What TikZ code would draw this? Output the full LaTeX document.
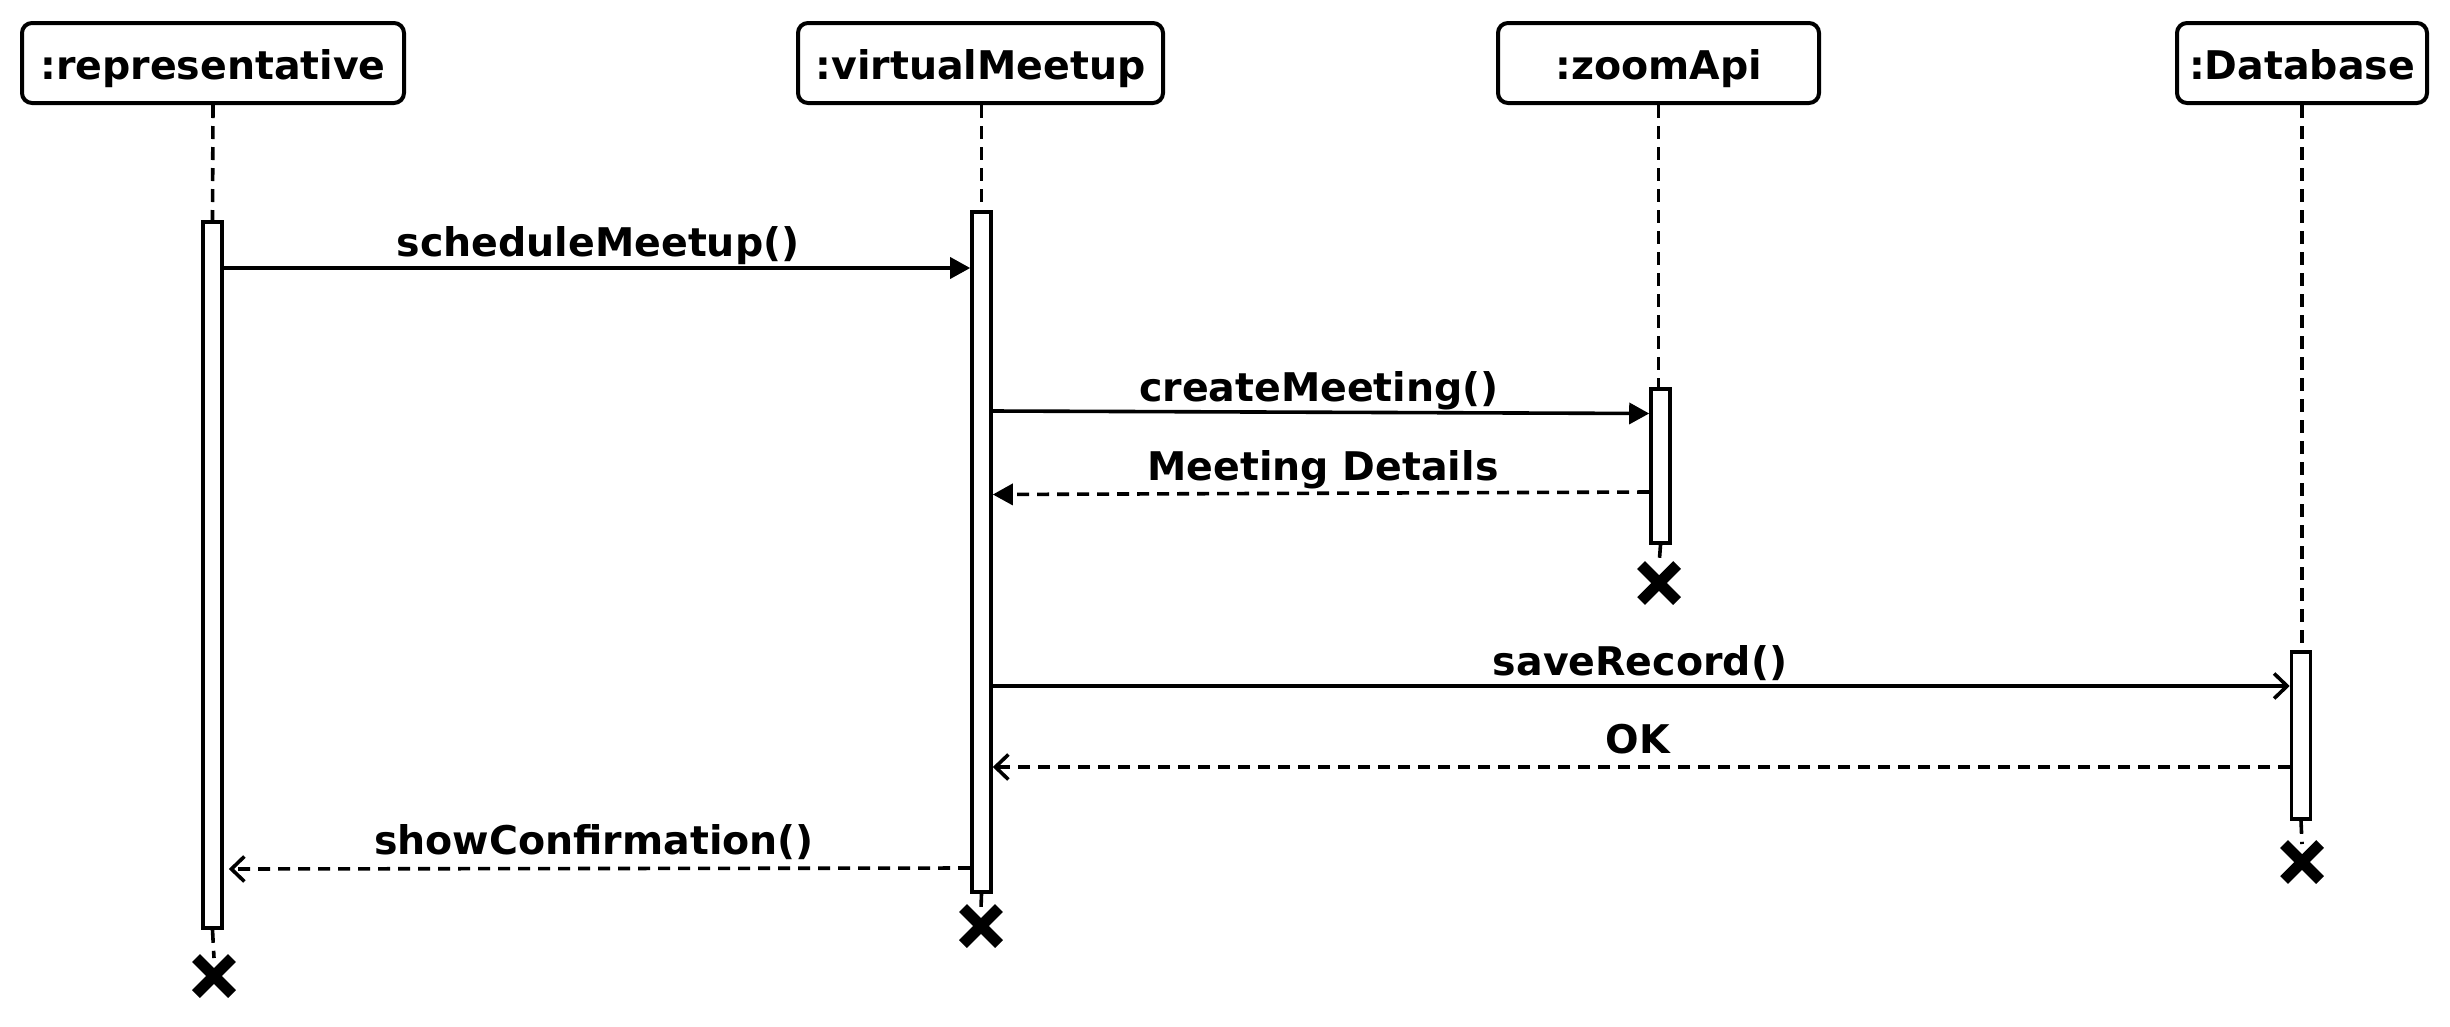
\documentclass[tikz,border=0pt]{standalone}
\usepackage{fontspec}
\setmainfont{DejaVu Sans}
\usetikzlibrary{arrows.meta,shapes.misc}
\tikzset{
  head/.style={draw, rounded corners=10pt, line width=4pt, inner sep=0pt, minimum height=80pt, text height=32pt, text depth=0pt},
  act/.style={draw, fill=white, line width=3.6pt, minimum width=19pt, inner sep=0pt},
  life/.style={line width=3.6pt, dash pattern=on 13pt off 8pt},
  msg/.style={line width=3.6pt},
  ret/.style={line width=3.6pt, dash pattern=on 12pt off 8pt},
  solidtip/.style={-{Triangle[length=20pt,width=21pt]}},
  opentip/.style={-{Straight Barb[length=13pt,width=25pt,line width=3.6pt]}},
  lbl/.style={anchor=base, inner sep=0pt},
  xmark/.style={cross out, draw, line width=11pt, minimum size=25pt, inner sep=0pt}
}
\begin{document}
\begin{tikzpicture}[x=1pt,y=-1pt,font=\fontsize{39.5}{47}\selectfont\bfseries]
\useasboundingbox (0,0) rectangle (2450,1026);
% heads
\node[head, minimum width=382pt] (h1) at (213,63) {:representative};
\node[head, minimum width=365pt] (h2) at (980.5,63) {:virtualMeetup};
\node[head, minimum width=321pt] (h3) at (1658.5,63) {:zoomApi};
\node[head, minimum width=250pt] (h4) at (2302,63) {:Database};
% activations
\node[act, minimum height=706pt] (a1) at (212.5,575) {};
\node[act, minimum height=680pt] (a2) at (981.5,552) {};
\node[act, minimum height=154pt] (a3) at (1660.5,466) {};
\node[act, minimum height=167pt] (a4) at (2301,735.5) {};
% destruction marks
\node[xmark] (x1) at (214,976) {};
\node[xmark] (x2) at (981,926) {};
\node[xmark] (x3) at (1659,583) {};
\node[xmark] (x4) at (2302,862) {};
% lifelines
\draw[life] (h1.south) -- (a1.north);
\draw[life] (h2.south -| a2.north) -- (a2.north);
\draw[life] (h3.south) -- (h3.south |- a3.north);
\draw[life] (h4.south) -- (h4.south |- a4.north);
\draw[life] (a1.south) -- (x1.north);
\draw[life] (a2.south) -- (x2.north);
\draw[life] (a3.south) -- (x3.north);
\draw[life] (a4.south) -- (x4.north);
% messages
\draw[msg, solidtip] (a1.east |- 0,268) -- (a2.west |- 0,268);
\node[lbl] (l1) at (598,256) {scheduleMeetup()};
\draw[msg, solidtip] (a2.east |- 0,411) -- (a3.west |- 0,413.5);
\node[lbl] (l2) at (1319,401) {createMeeting()};
\draw[ret, solidtip] (a3.west |- 0,492) -- (a2.east |- 0,494.5);
\node[lbl] (l3) at (1323,480) {Meeting Details};
\draw[msg, opentip] (a2.east |- 0,686) -- (a4.west |- 0,686);
\node[lbl] (l4) at (1640,675) {saveRecord()};
\draw[ret, opentip] (a4.west |- 0,767) -- (a2.east |- 0,767);
\node[lbl] (l5) at (1638,753) {OK};
\draw[ret, opentip] (a2.west |- 0,868) -- ([xshift=5pt]a1.east |- 0,869);
\node[lbl] (l6) at (594,854) {showConfirmation()};
\end{tikzpicture}
\end{document}
